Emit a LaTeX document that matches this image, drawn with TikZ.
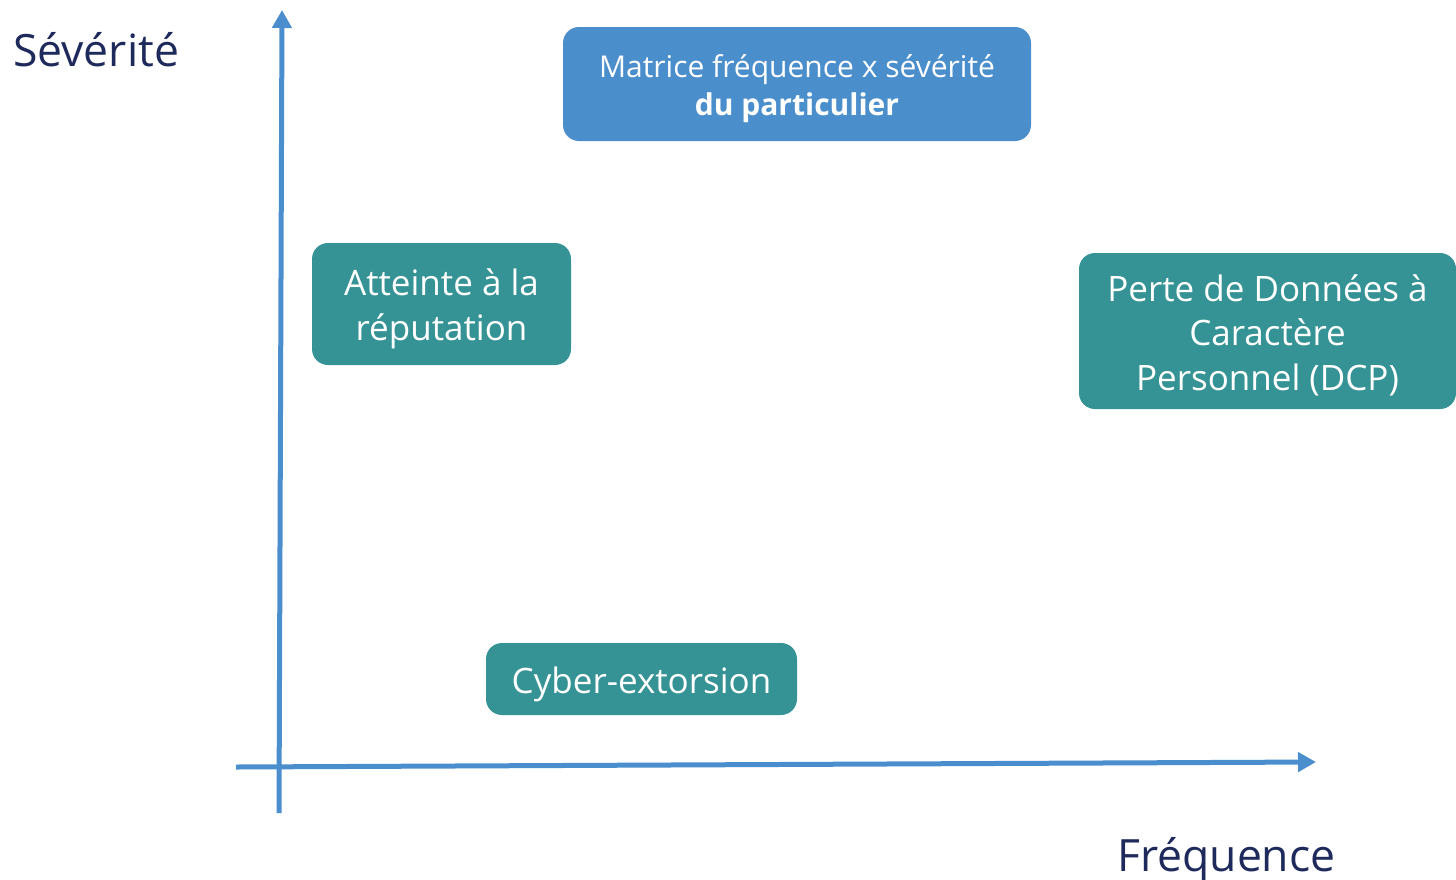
\documentclass[tikz,border=0pt]{standalone}
\usepackage{fontspec}
\setmainfont{Open Sans}
\usetikzlibrary{arrows.meta}
\definecolor{axisblue}{HTML}{4A8ECE}
\definecolor{boxblue}{HTML}{4B8ECC}
\definecolor{boxteal}{HTML}{369395}
\definecolor{navy}{HTML}{1F2A5C}
\tikzset{
  axis/.style={axisblue, line width=5pt, -{Triangle[length=18pt,width=19pt]}},
  tealbox/.style={fill=boxteal, rounded corners=16pt, inner sep=0pt},
  bluebox/.style={fill=boxblue, rounded corners=16pt, inner sep=0pt},
  tealtext/.style={text=white, align=center, inner sep=0pt, font=\fontsize{35}{44.5}\selectfont},
  bluetext/.style={text=white, align=center, inner sep=0pt, font=\fontsize{30}{38}\selectfont},
  axlabel/.style={text=navy, inner sep=0pt, anchor=base west, font=\fontsize{44.5}{50}\selectfont}
}
\begin{document}
\begin{tikzpicture}[x=1pt,y=-1pt]
\useasboundingbox (0,0) rectangle (1456,879);
% axes
\coordinate (ybot) at (279,813);
\coordinate (ytop) at (282,10);
\coordinate (xl) at (236,767);
\coordinate (xr) at (1316,762);
\draw[axis] (ybot) -- (ytop);
\draw[axis] (xl) -- (xr);
% boxes
\node[bluebox, minimum width=468pt, minimum height=114pt] (title) at (797,84) {};
\node[bluetext] (titletext) at ([yshift=-5pt]title.center)
  {Matrice fréquence x sévérité\\ \textbf{du particulier}};
\node[tealbox, minimum width=259pt, minimum height=122pt] (rep) at (441.5,304) {};
\node[tealtext] (reptext) at ([yshift=-5pt]rep.center) {Atteinte à la\\réputation};
\node[tealbox, minimum width=377pt, minimum height=156pt] (dcp) at (1267.5,331) {};
\node[tealtext] (dcptext) at ([yshift=-4pt]dcp.center)
  {Perte de Données à\\Caractère\\Personnel (DCP)};
\node[tealbox, minimum width=311pt, minimum height=72pt] (cyber) at (641.5,679) {};
\node[tealtext] (cybertext) at ([yshift=-5pt]cyber.center) {Cyber-extorsion};
% axis labels
\node[axlabel] (sev) at (13,66) {Sévérité};
\node[axlabel] (freq) at (1117,871) {Fréquence};
\end{tikzpicture}
\end{document}
